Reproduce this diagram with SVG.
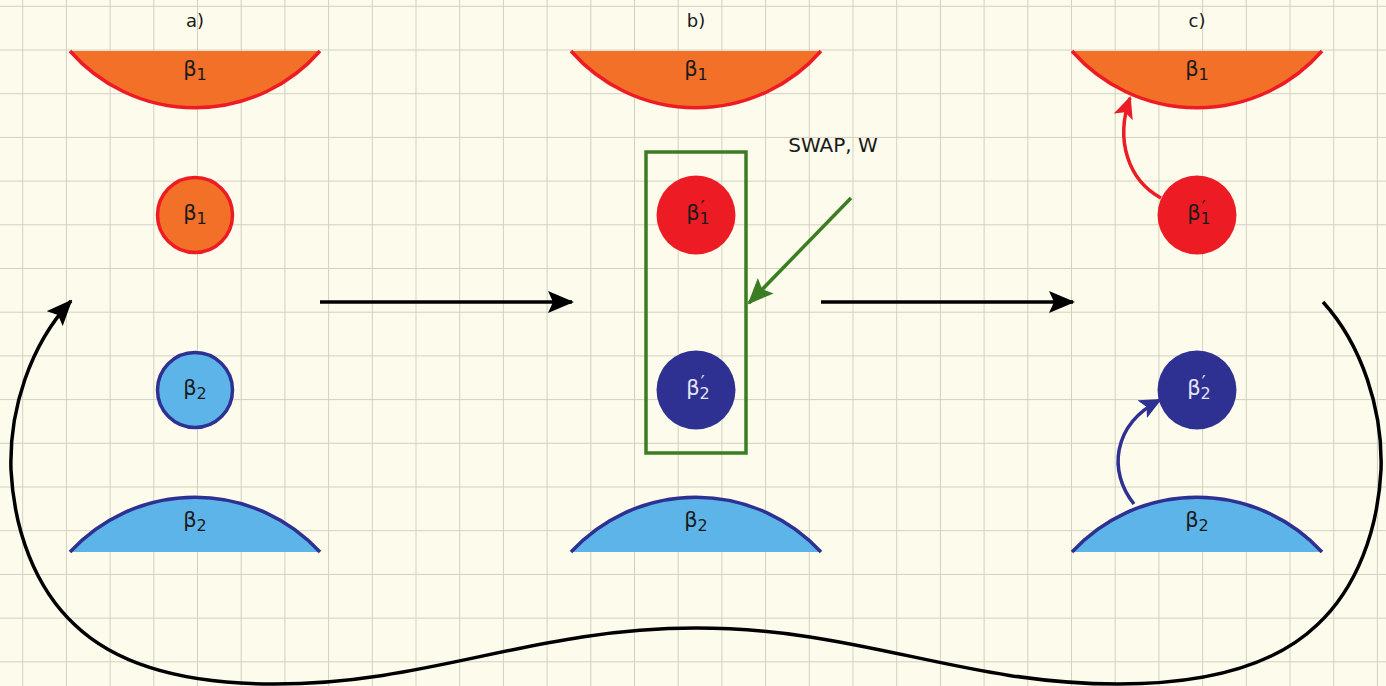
<svg xmlns="http://www.w3.org/2000/svg" width="1386" height="686" viewBox="0 0 1386 686">
<style>
.lbl{font-family:"DejaVu Sans","Liberation Sans",sans-serif;font-size:21px;text-anchor:middle;fill:#1a1a1a}
.sub{font-size:16px}
.pr{font-size:17px}
.cap{font-family:"DejaVu Sans","Liberation Sans",sans-serif;font-size:18px;text-anchor:middle;fill:#1a1a1a}
.light{fill:#e6e4f4}
.bowl{fill:#f37029;stroke:none}
.bowlEdge{fill:none;stroke:#ed1c24;stroke-width:3.5}
.dome{fill:#5db4e9;stroke:none}
.domeEdge{fill:none;stroke:#2e3192;stroke-width:3.5}
.conn{fill:none;stroke-width:3.5}
</style>
<defs>
<pattern id="grid" patternUnits="userSpaceOnUse" x="22.2" y="5.8" width="43.7" height="43.7">
<path d="M0.5,0 V43.7 M0,0.5 H43.7" stroke="#d2d0c0" stroke-width="1" fill="none"/>
</pattern>
<marker id="ahK" markerUnits="userSpaceOnUse" viewBox="0 0 26 22" refX="24" refY="11" markerWidth="26" markerHeight="22" orient="auto">
<path d="M0,0 L26,11 L0,22 L5,11 Z" fill="#000"/>
</marker>
<marker id="ahG" markerUnits="userSpaceOnUse" viewBox="0 0 26 22" refX="24" refY="11" markerWidth="26" markerHeight="22" orient="auto">
<path d="M0,0 L26,11 L0,22 L5,11 Z" fill="#3a7d23"/>
</marker>
<marker id="ahR" markerUnits="userSpaceOnUse" viewBox="0 0 22 20" refX="20" refY="10" markerWidth="22" markerHeight="20" orient="auto">
<path d="M0,0 L22,10 L0,20 L5,10 Z" fill="#ed1c24"/>
</marker>
<marker id="ahB" markerUnits="userSpaceOnUse" viewBox="0 0 22 20" refX="20" refY="10" markerWidth="22" markerHeight="20" orient="auto">
<path d="M0,0 L22,10 L0,20 L5,10 Z" fill="#2e3192"/>
</marker>
</defs>
<rect width="1386" height="686" fill="#fdfbec"/>
<rect width="1386" height="686" fill="url(#grid)"/>

<text class="cap" x="195" y="27">a)</text>
<text class="cap" x="696" y="27">b)</text>
<text class="cap" x="1197" y="27">c)</text>

<!-- panel a -->
<g id="a-top">
<path class="bowl" d="M70,51 A166,166 0 0 0 320,51 Z"/>
<path class="bowlEdge" d="M70,51 A166,166 0 0 0 320,51"/>
<text class="lbl" x="195" y="76">β<tspan class="sub" dy="4">1</tspan></text>
</g>
<g id="a-b1">
<circle cx="195" cy="215" r="37.5" fill="#f37029" stroke="#ed1c24" stroke-width="3.5"/>
<text class="lbl" x="195" y="220">β<tspan class="sub" dy="4">1</tspan></text>
</g>
<g id="a-b2">
<circle cx="195" cy="390" r="37.5" fill="#5db4e9" stroke="#2e3192" stroke-width="3.5"/>
<text class="lbl" x="195" y="395">β<tspan class="sub" dy="4">2</tspan></text>
</g>
<g id="a-bottom">
<path class="dome" d="M70,552 A170,170 0 0 1 320,552 Z"/>
<path class="domeEdge" d="M70,552 A170,170 0 0 1 320,552"/>
<text class="lbl" x="195" y="527">β<tspan class="sub" dy="4">2</tspan></text>
</g>

<!-- panel b -->
<g id="b-top">
<path class="bowl" d="M571,51 A166,166 0 0 0 821,51 Z"/>
<path class="bowlEdge" d="M571,51 A166,166 0 0 0 821,51"/>
<text class="lbl" x="696" y="76">β<tspan class="sub" dy="4">1</tspan></text>
</g>
<g id="b-b1">
<circle cx="696" cy="215" r="39.5" fill="#ed1c24"/>
<text class="lbl" x="698" y="220">β<tspan class="sub" dy="4">1</tspan><tspan class="pr" dx="-9" dy="-11">′</tspan></text>
</g>
<g id="b-b2">
<circle cx="696" cy="390" r="39.5" fill="#2e3192"/>
<text class="lbl light" x="698" y="395">β<tspan class="sub" dy="4">2</tspan><tspan class="pr" dx="-9" dy="-11">′</tspan></text>
</g>
<g id="b-box">
<rect x="646" y="152" width="100" height="301" fill="none" stroke="#3a7d23" stroke-width="3.5"/>
</g>
<g id="b-bottom">
<path class="dome" d="M571,552 A170,170 0 0 1 821,552 Z"/>
<path class="domeEdge" d="M571,552 A170,170 0 0 1 821,552"/>
<text class="lbl" x="696" y="527">β<tspan class="sub" dy="4">2</tspan></text>
</g>
<g id="swap-label">
<text class="lbl" x="833" y="152" style="font-size:20px">SWAP, W</text>
</g>

<!-- panel c -->
<g id="c-top">
<path class="bowl" d="M1072,51 A166,166 0 0 0 1322,51 Z"/>
<path class="bowlEdge" d="M1072,51 A166,166 0 0 0 1322,51"/>
<text class="lbl" x="1197" y="76">β<tspan class="sub" dy="4">1</tspan></text>
</g>
<g id="c-b1">
<circle cx="1197" cy="215" r="39.5" fill="#ed1c24"/>
<text class="lbl" x="1199" y="220">β<tspan class="sub" dy="4">1</tspan><tspan class="pr" dx="-9" dy="-11">′</tspan></text>
</g>
<g id="c-b2">
<circle cx="1197" cy="390" r="39.5" fill="#2e3192"/>
<text class="lbl light" x="1199" y="395">β<tspan class="sub" dy="4">2</tspan><tspan class="pr" dx="-9" dy="-11">′</tspan></text>
</g>
<g id="c-bottom">
<path class="dome" d="M1072,552 A170,170 0 0 1 1322,552 Z"/>
<path class="domeEdge" d="M1072,552 A170,170 0 0 1 1322,552"/>
<text class="lbl" x="1197" y="527">β<tspan class="sub" dy="4">2</tspan></text>
</g>

<g id="connectors">
<path class="conn" stroke="#000" d="M320,302 H572" marker-end="url(#ahK)"/>
<path class="conn" stroke="#000" d="M821,302 H1073" marker-end="url(#ahK)"/>
<path class="conn" stroke="#3a7d23" d="M851,198 L749,303" marker-end="url(#ahG)"/>
<path class="conn" stroke="#ed1c24" d="M1161,198 C1128,180 1115,140 1130,98" marker-end="url(#ahR)"/>
<path class="conn" stroke="#2e3192" d="M1134,504 C1108,472 1112,425 1160,400" marker-end="url(#ahB)"/>
<path class="conn" stroke="#000" d="M1323,302 C1362,345 1383,410 1381,470 C1378,530 1357,588 1317,625 C1272,668 1202,684 1118,684 C960,684 860,628 696,628 C532,628 432,684 274,684 C190,684 120,668 75,625 C35,588 14,530 11,470 C9,410 30,345 71,301" marker-end="url(#ahK)"/>
</g>
</svg>
